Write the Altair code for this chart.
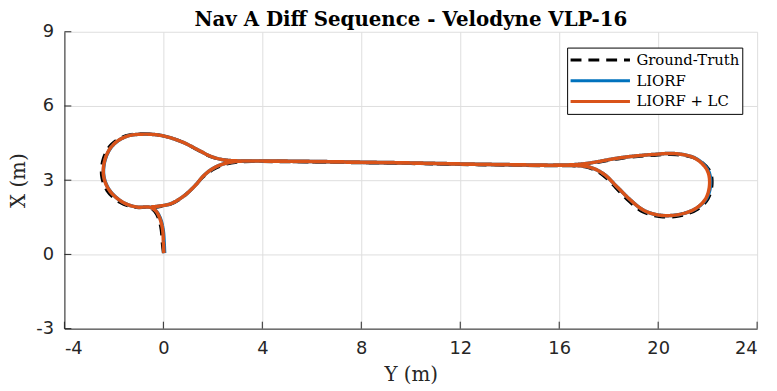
import altair as alt
import pandas as pd

# ---------------- data ----------------
series_names = ["Ground-Truth", "LIORF", "LIORF + LC"]
series_colors = ["#000000", "#0072BD", "#D95319"]

# Ground-Truth trajectory (Y horizontal, X vertical), metres
gt_y = [0.0, -0.05, -0.09, -0.2, -0.36, -0.58, -1.15, -1.75, -2.28, -2.5, -2.42, -2.1, -1.52, -0.86,
        -0.05, 0.75, 1.41, 1.9, 2.4, 3.0, 4.0, 6.0, 8.0, 10.0, 12.0, 14.0, 15.8, 16.6, 17.2, 18.5,
        19.8, 20.74, 21.55, 22.08, 22.18, 22.02, 21.6, 20.9, 20.1, 19.38, 18.82, 18.28, 17.74, 17.2,
        16.5, 15.5, 14.0, 12.0, 10.0, 8.0, 6.0, 4.0, 3.0, 2.45, 2.0, 1.58, 1.22, 0.8, 0.28, -0.2, -0.5]
gt_x = [0.05, 0.5, 1.0, 1.45, 1.75, 1.88, 1.9, 2.1, 2.58, 3.2, 3.9, 4.45, 4.8, 4.88,
        4.8, 4.55, 4.2, 3.95, 3.82, 3.77, 3.77, 3.74, 3.71, 3.68, 3.64, 3.61, 3.58, 3.6, 3.66, 3.88,
        4.0, 4.03, 3.86, 3.4, 2.87, 2.25, 1.83, 1.56, 1.52, 1.72, 2.15, 2.7, 3.22, 3.5,
        3.58, 3.58, 3.6, 3.63, 3.67, 3.7, 3.73, 3.75, 3.73, 3.62, 3.42, 3.1, 2.72, 2.32, 2.02, 1.92, 1.9]

# LIORF trajectory
liorf_y = [0.05, 0.03, -0.01, -0.12, -0.29, -0.52, -1.1, -1.66, -2.18, -2.41, -2.34, -2.05, -1.52, -0.86,
           -0.05, 0.75, 1.41, 1.9, 2.4, 3.0, 4.0, 6.0, 8.0, 10.0, 12.0, 14.0, 15.8, 16.6, 17.2, 18.5,
           19.8, 20.74, 21.52, 22.02, 22.12, 21.96, 21.55, 20.88, 20.1, 19.42, 18.88, 18.34, 17.8, 17.25,
           16.5, 15.5, 14.0, 12.0, 10.0, 8.0, 6.0, 4.0, 3.0, 2.5, 2.05, 1.65, 1.3, 0.85, 0.3, -0.2, -0.5]
liorf_x = [0.05, 0.5, 1.0, 1.45, 1.75, 1.9, 1.92, 2.12, 2.6, 3.2, 3.87, 4.4, 4.76, 4.86,
           4.8, 4.55, 4.22, 3.97, 3.83, 3.78, 3.78, 3.76, 3.73, 3.7, 3.66, 3.63, 3.61, 3.63, 3.69, 3.91,
           4.04, 4.07, 3.88, 3.4, 2.87, 2.27, 1.87, 1.62, 1.58, 1.78, 2.2, 2.73, 3.25, 3.52,
           3.6, 3.6, 3.62, 3.65, 3.69, 3.72, 3.75, 3.77, 3.76, 3.68, 3.5, 3.2, 2.8, 2.38, 2.05, 1.95, 1.92]

# LIORF + LC trajectory
lc_y = [0.02, 0.0, -0.03, -0.14, -0.3, -0.52, -1.1, -1.66, -2.19, -2.42, -2.35, -2.06, -1.52, -0.86,
        -0.05, 0.75, 1.41, 1.9, 2.4, 3.0, 4.0, 6.0, 8.0, 10.0, 12.0, 14.0, 15.8, 16.6, 17.2, 18.5,
        19.8, 20.74, 21.5, 21.98, 22.08, 21.93, 21.54, 20.88, 20.1, 19.42, 18.88, 18.34, 17.8, 17.25,
        16.5, 15.5, 14.0, 12.0, 10.0, 8.0, 6.0, 4.0, 3.0, 2.5, 2.05, 1.65, 1.3, 0.85, 0.3, -0.2, -0.5]
lc_x = [0.05, 0.5, 1.0, 1.45, 1.75, 1.9, 1.92, 2.12, 2.6, 3.2, 3.87, 4.4, 4.76, 4.86,
        4.8, 4.55, 4.22, 3.97, 3.83, 3.78, 3.78, 3.76, 3.73, 3.7, 3.66, 3.63, 3.61, 3.63, 3.69, 3.91,
        4.04, 4.07, 3.88, 3.4, 2.87, 2.27, 1.87, 1.62, 1.58, 1.78, 2.2, 2.73, 3.25, 3.52,
        3.6, 3.6, 3.62, 3.65, 3.69, 3.72, 3.75, 3.77, 3.76, 3.68, 3.5, 3.2, 2.8, 2.38, 2.05, 1.95, 1.92]

x_ticks = [-4, 0, 4, 8, 12, 16, 20, 24]
y_ticks = [-3, 0, 3, 6, 9]

title_text = "Nav A Diff Sequence - Velodyne VLP-16"

# ---------------- build table ----------------
rows = []
for name, ys, xs in [(series_names[0], gt_y, gt_x),
                     (series_names[1], liorf_y, liorf_x),
                     (series_names[2], lc_y, lc_x)]:
    for i, (yy, xx) in enumerate(zip(ys, xs)):
        rows.append({"series": name, "idx": i, "Y": yy, "X": xx})
df = pd.DataFrame(rows)

xt_df = pd.DataFrame({"Y": x_ticks})
yt_df = pd.DataFrame({"X": y_ticks})

W, H = 700, 300
x_scale = alt.Scale(domain=[-4, 24], nice=False, zero=False)
y_scale = alt.Scale(domain=[-3, 9], nice=False, zero=False)

axis_style = dict(
    grid=True, gridColor="#dedede", gridWidth=1, domainColor="#262626", domainWidth=1,
    ticks=False, labelFont="DejaVu Sans", labelFontSize=18, labelColor="#262626",
    labelPadding=11, titleFont="DejaVu Serif", titleFontSize=20, titleFontWeight="normal",
    titleColor="#262626", labelExpr="'' + datum.value", titleBaseline="middle",
)
x_axis = alt.Axis(values=x_ticks, title="Y (m)", titleY=46, **axis_style)
y_axis = alt.Axis(values=y_ticks, title="X (m)", titleX=-46, titleY=150, titleAngle=-90,
                  **axis_style)
x_enc = alt.X("Y:Q", scale=x_scale, axis=x_axis)
y_enc = alt.Y("X:Q", scale=y_scale, axis=y_axis)

legend = alt.Legend(
    orient="none", legendX=508, legendY=16, title=None,
    symbolType="stroke", symbolSize=3600, symbolStrokeWidth=3, clipHeight=21,
    labelFont="DejaVu Serif", labelFontSize=15, labelColor="black",
    strokeColor="black", fillColor="white", padding=2, rowPadding=0,
    labelOffset=5, cornerRadius=0, labelLimit=0,
)
color_enc = alt.Color("series:N", scale=alt.Scale(domain=series_names, range=series_colors),
                      legend=legend)
dash_enc = alt.StrokeDash("series:N", scale=alt.Scale(domain=series_names,
                                                      range=[[11, 7], [1, 0], [1, 0]]),
                          legend=legend)

base = alt.Chart(df)


def line_layer(name, width):
    return base.transform_filter(alt.datum.series == name).mark_line(
        strokeWidth=width, interpolate="catmull-rom", strokeCap="butt"
    ).encode(x=x_enc, y=y_enc, color=color_enc, strokeDash=dash_enc, order="idx:Q")


gt_layer = line_layer(series_names[0], 3)
liorf_layer = line_layer(series_names[1], 3.5)
lc_layer = line_layer(series_names[2], 3.5)

xtick_layer = alt.Chart(xt_df).mark_rule(color="#262626", strokeWidth=1).encode(
    x=x_enc, y=alt.value(H), y2=alt.value(H - 7))
ytick_layer = alt.Chart(yt_df).mark_rule(color="#262626", strokeWidth=1).encode(
    y=y_enc, x=alt.value(0), x2=alt.value(7))

chart = alt.layer(gt_layer, liorf_layer, lc_layer, xtick_layer, ytick_layer).properties(
    width=W, height=H,
    title=alt.TitleParams(title_text, font="DejaVu Serif", fontSize=20, fontWeight="bold",
                          color="black", frame="group", anchor="middle", offset=0, dy=7),
    autosize=alt.AutoSizeParams(type="none"),
    padding={"left": 57, "top": 22, "right": 12, "bottom": 59},
    background="white",
).configure_view(stroke=None)

chart.save("out.html", embed_options={"renderer": "svg", "actions": False})
